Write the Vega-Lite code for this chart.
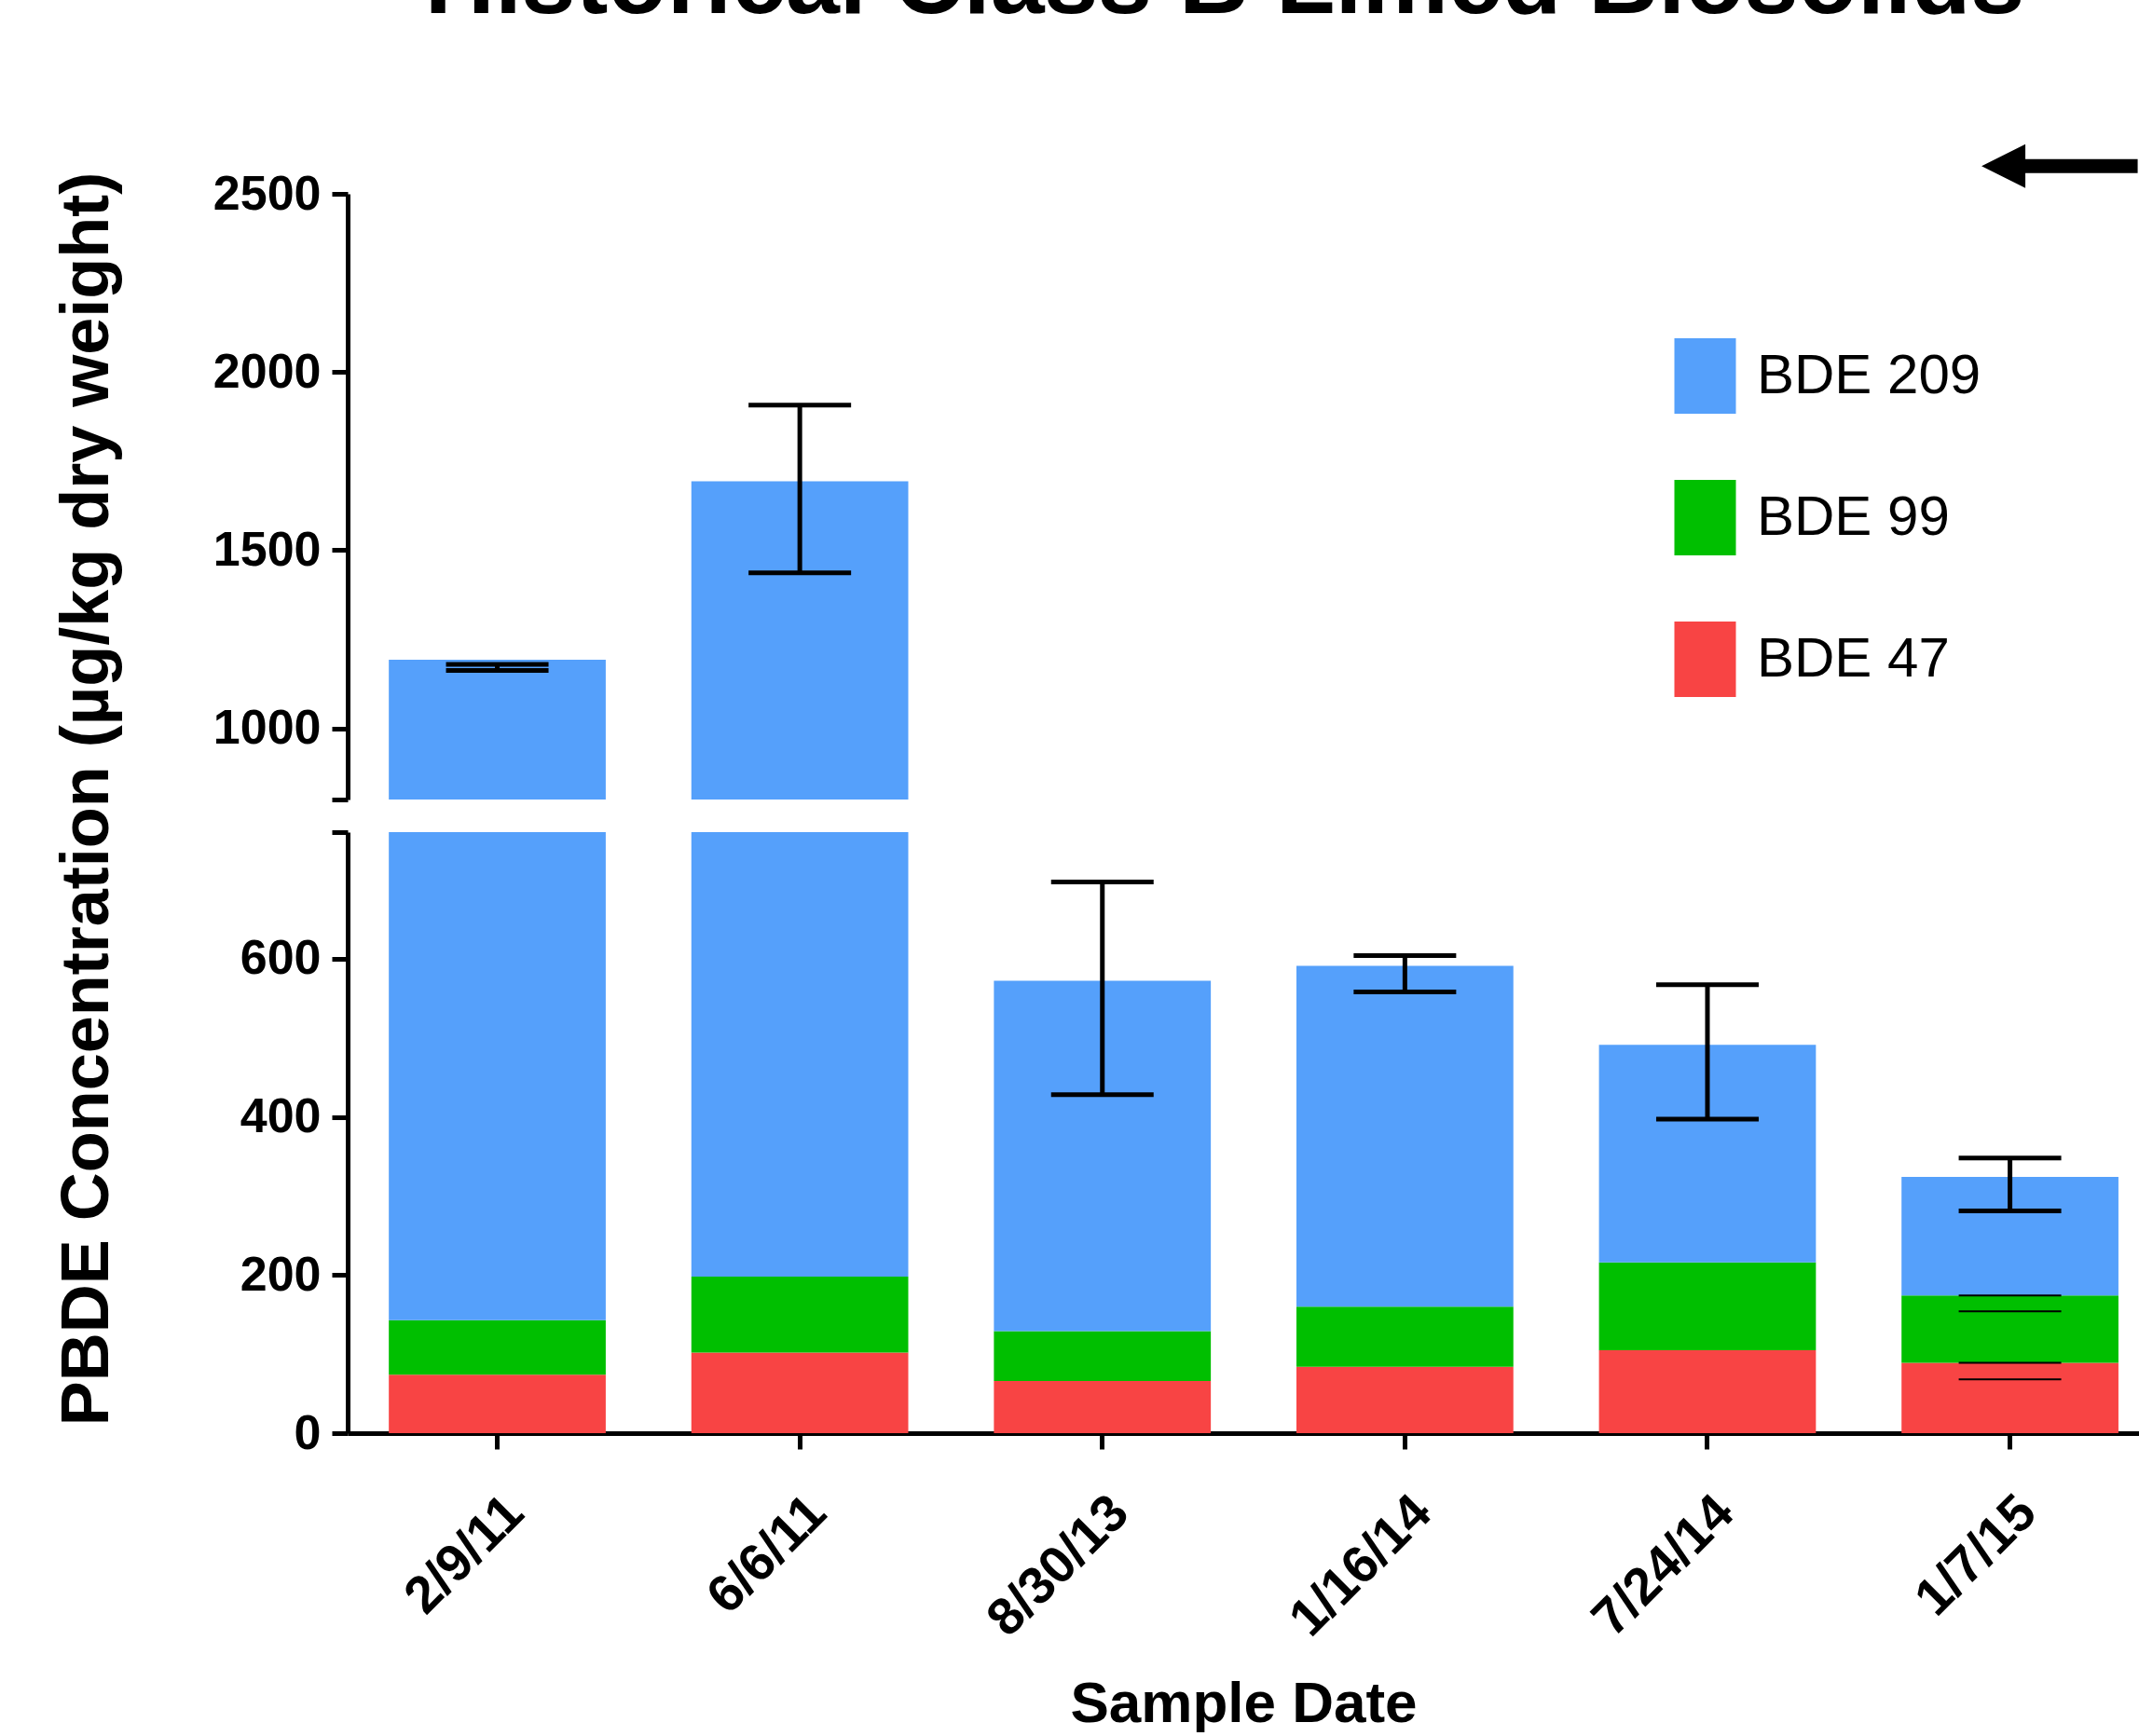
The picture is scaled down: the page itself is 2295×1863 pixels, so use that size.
{
  "$schema": "https://vega.github.io/schema/vega-lite/v6.json",
  "padding": {"left": 56, "top": -70, "right": 0, "bottom": 0},
  "background": "white",
  "bounds": "flush",
  "config": {
    "font": "Liberation Sans",
    "view": {"stroke": null},
    "axis": {
      "grid": false,
      "domainColor": "black",
      "domainWidth": 5,
      "tickColor": "black",
      "tickWidth": 5,
      "tickSize": 17,
      "labelFont": "Liberation Sans",
      "labelFontWeight": "bold",
      "labelFontSize": 52,
      "labelColor": "black",
      "labelLimit": 500,
      "titleFont": "Liberation Sans",
      "titleColor": "black",
      "titleFontWeight": "bold",
      "titleLimit": 3000
    },
    "legend": {
      "labelFont": "Liberation Sans",
      "labelFontSize": 60,
      "labelColor": "black",
      "labelLimit": 600,
      "symbolType": "M-0.815,-1H0.815V1H-0.815Z",
      "symbolSize": 6561,
      "symbolStrokeWidth": 0,
      "symbolOpacity": 1,
      "rowPadding": 71,
      "labelOffset": 15,
      "padding": 0
    }
  },
  "title": {
    "text": "Historical Class B Limed Biosolids",
    "font": "Liberation Sans",
    "fontSize": 104,
    "fontWeight": "bold",
    "color": "black",
    "anchor": "middle",
    "dx": 135,
    "offset": 119
  },
  "datasets": {
    "bars": [
      {"date": "2/9/11", "congener": "BDE 47", "bde": 47, "value": 74},
      {"date": "2/9/11", "congener": "BDE 99", "bde": 99, "value": 69},
      {"date": "2/9/11", "congener": "BDE 209", "bde": 209, "value": 1049},
      {"date": "6/6/11", "congener": "BDE 47", "bde": 47, "value": 102},
      {"date": "6/6/11", "congener": "BDE 99", "bde": 99, "value": 96},
      {"date": "6/6/11", "congener": "BDE 209", "bde": 209, "value": 1495},
      {"date": "8/30/13", "congener": "BDE 47", "bde": 47, "value": 66},
      {"date": "8/30/13", "congener": "BDE 99", "bde": 99, "value": 63},
      {"date": "8/30/13", "congener": "BDE 209", "bde": 209, "value": 443},
      {"date": "1/16/14", "congener": "BDE 47", "bde": 47, "value": 84},
      {"date": "1/16/14", "congener": "BDE 99", "bde": 99, "value": 76},
      {"date": "1/16/14", "congener": "BDE 209", "bde": 209, "value": 431},
      {"date": "7/24/14", "congener": "BDE 47", "bde": 47, "value": 105},
      {"date": "7/24/14", "congener": "BDE 99", "bde": 99, "value": 111},
      {"date": "7/24/14", "congener": "BDE 209", "bde": 209, "value": 275},
      {"date": "1/7/15", "congener": "BDE 47", "bde": 47, "value": 89},
      {"date": "1/7/15", "congener": "BDE 99", "bde": 99, "value": 85},
      {"date": "1/7/15", "congener": "BDE 209", "bde": 209, "value": 150}
    ],
    "errors": [
      {"date": "2/9/11", "low": 1162, "high": 1179},
      {"date": "6/6/11", "low": 1436, "high": 1907},
      {"date": "8/30/13", "low": 428, "high": 697},
      {"date": "1/16/14", "low": 558, "high": 604},
      {"date": "7/24/14", "low": 397, "high": 567},
      {"date": "1/7/15", "low": 281, "high": 348}
    ],
    "thin": [
      {"date": "1/7/15", "congener": "BDE 99", "low": 154, "high": 174},
      {"date": "1/7/15", "congener": "BDE 47", "low": 68, "high": 89}
    ],
    "note": [
      {"date": "1/7/15", "level": 2578}
    ]
  },
  "spacing": 35,
  "vconcat": [
    {
      "width": 1922,
      "height": 650,
      "encoding": {
        "x": {
          "field": "date",
          "type": "nominal",
          "scale": {
            "domain": ["2/9/11", "6/6/11", "8/30/13", "1/16/14", "7/24/14", "1/7/15"],
            "paddingInner": 0.283,
            "paddingOuter": 0.102,
            "align": 0.667
          },
          "axis": null
        }
      },
      "layer": [
        {
          "data": {"name": "bars"},
          "mark": {"type": "bar", "clip": true},
          "encoding": {
            "y": {
              "field": "value",
              "type": "quantitative",
              "stack": "zero",
              "scale": {"domain": [800, 2500], "nice": false, "zero": false},
              "axis": {
                "title": null,
                "values": [800, 1000, 1500, 2000, 2500],
                "labelExpr": "datum.value == 800 ? '' : datum.label",
                "format": "d",
                "labelPadding": 12
              }
            },
            "color": {
              "field": "congener",
              "type": "nominal",
              "scale": {
                "domain": ["BDE 209", "BDE 99", "BDE 47"],
                "range": ["#55A0FB", "#00BF00", "#F84444"]
              },
              "legend": {
                "title": null,
                "orient": "none",
                "legendX": 1416,
                "legendY": 155
              }
            },
            "order": {"field": "bde", "type": "quantitative", "sort": "ascending"}
          }
        },
        {
          "data": {"name": "errors"},
          "mark": {"type": "rule", "clip": true, "strokeWidth": 5, "color": "black"},
          "encoding": {
            "y": {"field": "low", "type": "quantitative"},
            "y2": {"field": "high"}
          }
        },
        {
          "data": {"name": "errors"},
          "mark": {"type": "tick", "clip": true, "size": 110, "thickness": 5, "color": "black", "opacity": 1},
          "encoding": {
            "y": {"field": "low", "type": "quantitative"}
          }
        },
        {
          "data": {"name": "errors"},
          "mark": {"type": "tick", "clip": true, "size": 110, "thickness": 5, "color": "black", "opacity": 1},
          "encoding": {
            "y": {"field": "high", "type": "quantitative"}
          }
        },
        {
          "data": {"name": "note"},
          "mark": {"type": "rule", "strokeWidth": 15, "color": "black", "x2Offset": 137, "strokeCap": "butt"},
          "encoding": {
            "y": {"field": "level", "type": "quantitative"},
            "x2": {"field": "date"}
          }
        },
        {
          "data": {"name": "note"},
          "mark": {"type": "point", "shape": "M-1,0L1,-1L1,1Z", "size": 2209, "filled": true, "color": "black", "opacity": 1, "xOffset": -7},
          "encoding": {
            "y": {"field": "level", "type": "quantitative"}
          }
        }
      ]
    },
    {
      "width": 1922,
      "height": 645,
      "encoding": {
        "x": {
          "field": "date",
          "type": "nominal",
          "scale": {
            "domain": ["2/9/11", "6/6/11", "8/30/13", "1/16/14", "7/24/14", "1/7/15"],
            "paddingInner": 0.283,
            "paddingOuter": 0.102,
            "align": 0.667
          },
          "axis": {
            "title": "Sample Date",
            "titleFontSize": 62,
            "titlePadding": 60,
            "labelAngle": -45,
            "labelFontSize": 56,
            "labelPadding": 40
          }
        }
      },
      "layer": [
        {
          "data": {"name": "bars"},
          "mark": {"type": "bar", "clip": true},
          "encoding": {
            "y": {
              "field": "value",
              "type": "quantitative",
              "stack": "zero",
              "scale": {"domain": [0, 760], "nice": false},
              "axis": {
                "title": "PBDE Concentration (µg/kg dry weight)",
                "titleFontSize": 72,
                "titleAngle": 270,
                "titleAlign": "center",
                "titleBaseline": "bottom",
                "titleX": -243,
                "titleY": -36,
                "values": [0, 200, 400, 600, 760],
                "labelExpr": "datum.value == 760 ? '' : datum.label",
                "format": "d",
                "labelPadding": 12
              }
            },
            "color": {
              "field": "congener",
              "type": "nominal",
              "scale": {
                "domain": ["BDE 209", "BDE 99", "BDE 47"],
                "range": ["#55A0FB", "#00BF00", "#F84444"]
              },
              "legend": null
            },
            "order": {"field": "bde", "type": "quantitative", "sort": "ascending"}
          }
        },
        {
          "data": {"name": "errors"},
          "mark": {"type": "rule", "clip": true, "strokeWidth": 5, "color": "black"},
          "encoding": {
            "y": {"field": "low", "type": "quantitative"},
            "y2": {"field": "high"}
          }
        },
        {
          "data": {"name": "errors"},
          "mark": {"type": "tick", "clip": true, "size": 110, "thickness": 5, "color": "black", "opacity": 1},
          "encoding": {
            "y": {"field": "low", "type": "quantitative"}
          }
        },
        {
          "data": {"name": "errors"},
          "mark": {"type": "tick", "clip": true, "size": 110, "thickness": 5, "color": "black", "opacity": 1},
          "encoding": {
            "y": {"field": "high", "type": "quantitative"}
          }
        },
        {
          "data": {"name": "thin"},
          "mark": {"type": "tick", "clip": true, "size": 110, "thickness": 2, "color": "black", "opacity": 1},
          "encoding": {
            "y": {"field": "low", "type": "quantitative"}
          }
        },
        {
          "data": {"name": "thin"},
          "mark": {"type": "tick", "clip": true, "size": 110, "thickness": 2, "color": "black", "opacity": 1},
          "encoding": {
            "y": {"field": "high", "type": "quantitative"}
          }
        }
      ]
    }
  ]
}
